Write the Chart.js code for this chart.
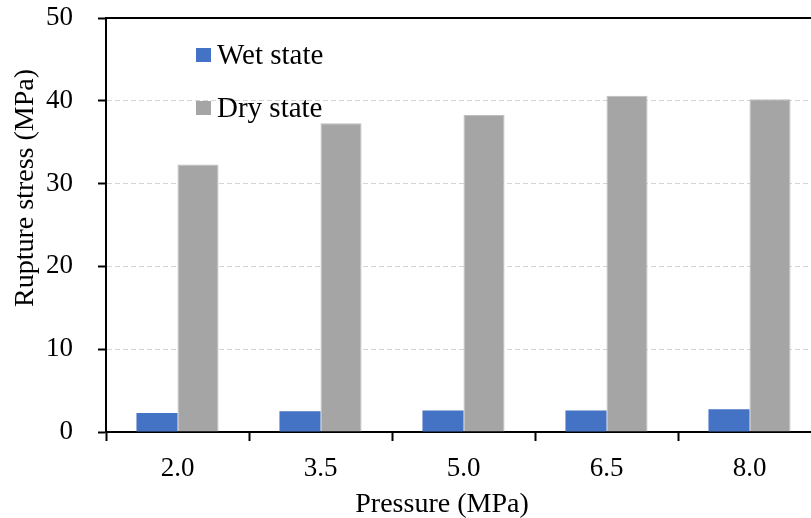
<!DOCTYPE html>
<html>
<head>
<meta charset="utf-8">
<script src="https://cdn.jsdelivr.net/npm/chart.js@4/dist/chart.umd.min.js"></script>
<style>
  html, body { margin: 0; padding: 0; background: #fff; overflow: hidden; }
  #wrap { position: relative; width: 822px; height: 518px; }
</style>
</head>
<body>
<div id="wrap"><canvas id="rupture-chart" width="822" height="518"></canvas></div>
<script>
// Rupture stress vs pressure, wet vs dry specimens
const pressureLabels = ['2.0', '3.5', '5.0', '6.5', '8.0'];
const wetStress = [2.3, 2.5, 2.6, 2.6, 2.75];
const dryStress = [32.3, 37.3, 38.3, 40.6, 40.2];
const seriesNames = ['Wet state', 'Dry state'];
const yTicks = [0, 10, 20, 30, 40, 50];
const xTitle = 'Pressure (MPa)';
const yTitle = 'Rupture stress (MPa)';

const SERIF = "'Liberation Serif', 'Times New Roman', serif";

// legend sits inside the plot, stacked, like the original figure
const insideLegend = {
  id: 'insideLegend',
  afterDraw(chart) {
    const ctx = chart.ctx;
    ctx.save();
    ctx.font = '29px ' + SERIF;
    ctx.textBaseline = 'alphabetic';
    ctx.textAlign = 'left';
    chart.data.datasets.forEach((ds, i) => {
      const base = 64 + i * 53;
      ctx.fillStyle = ds.backgroundColor;
      ctx.fillRect(196, base - 16, 15, 14);
      ctx.fillStyle = '#000';
      ctx.fillText(ds.label, 217, base);
    });
    ctx.restore();
  }
};

// solid top frame line + axis titles (off-centre in the original)
const frameAndTitles = {
  id: 'frameAndTitles',
  afterDraw(chart) {
    const { ctx, chartArea } = chart;
    ctx.save();
    ctx.strokeStyle = '#000';
    ctx.lineWidth = 2;
    ctx.beginPath();
    ctx.moveTo(chartArea.left, chartArea.top);
    ctx.lineTo(chartArea.right, chartArea.top);
    ctx.stroke();

    ctx.fillStyle = '#000';
    ctx.font = '28px ' + SERIF;
    ctx.textAlign = 'center';
    ctx.textBaseline = 'alphabetic';
    ctx.fillText(xTitle, 442, 512);

    ctx.translate(33, 188);
    ctx.rotate(-Math.PI / 2);
    ctx.fillText(yTitle, 0, 0);
    ctx.restore();
  }
};

new Chart(document.getElementById('rupture-chart'), {
  type: 'bar',
  data: {
    labels: pressureLabels,
    datasets: [{
      label: seriesNames[0],
      data: wetStress,
      backgroundColor: '#4472C4',
      borderWidth: 0,
      categoryPercentage: 0.574,
      barPercentage: 1.0
    }, {
      label: seriesNames[1],
      data: dryStress,
      backgroundColor: '#A5A5A5',
      borderColor: '#BDBDBD',
      borderWidth: 1,
      borderSkipped: 'bottom',
      categoryPercentage: 0.574,
      barPercentage: 1.0
    }]
  },
  options: {
    responsive: false,
    animation: false,
    devicePixelRatio: 1,
    layout: { padding: { top: 0, right: 1, left: 0, bottom: 0 } },
    plugins: {
      legend: { display: false },
      tooltip: { enabled: false }
    },
    scales: {
      x: {
        offset: true,
        grid: {
          offset: true,
          drawOnChartArea: false,
          drawTicks: true,
          tickLength: 9,
          tickColor: '#000',
          tickWidth: 2
        },
        border: { color: '#000', width: 2 },
        ticks: {
          color: '#000',
          padding: 12,
          font: { family: SERIF, size: 27 }
        },
        afterFit(scale) {
          scale.height = 86;
          scale.paddingLeft = 0;
          scale.paddingRight = 0;
        }
      },
      y: {
        min: 0,
        max: 50,
        afterBuildTicks(scale) { scale.ticks = yTicks.map(v => ({ value: v })); },
        grid: {
          color: (c) => c.tick && (c.tick.value === 0 || c.tick.value === 50) ? 'rgba(0,0,0,0)' : '#D4D4D4',
          lineWidth: 1,
          drawTicks: true,
          tickLength: 8,
          tickColor: '#000',
          tickWidth: 2
        },
        border: { color: '#000', width: 2, dash: [5, 3] },
        ticks: {
          color: '#000',
          padding: 25,
          font: { family: SERIF, size: 27 }
        },
        afterFit(scale) {
          scale.width = 106;
          scale.paddingTop = 18;
          scale.paddingBottom = 0;
        }
      }
    }
  },
  plugins: [insideLegend, frameAndTitles]
});
</script>
</body>
</html>
